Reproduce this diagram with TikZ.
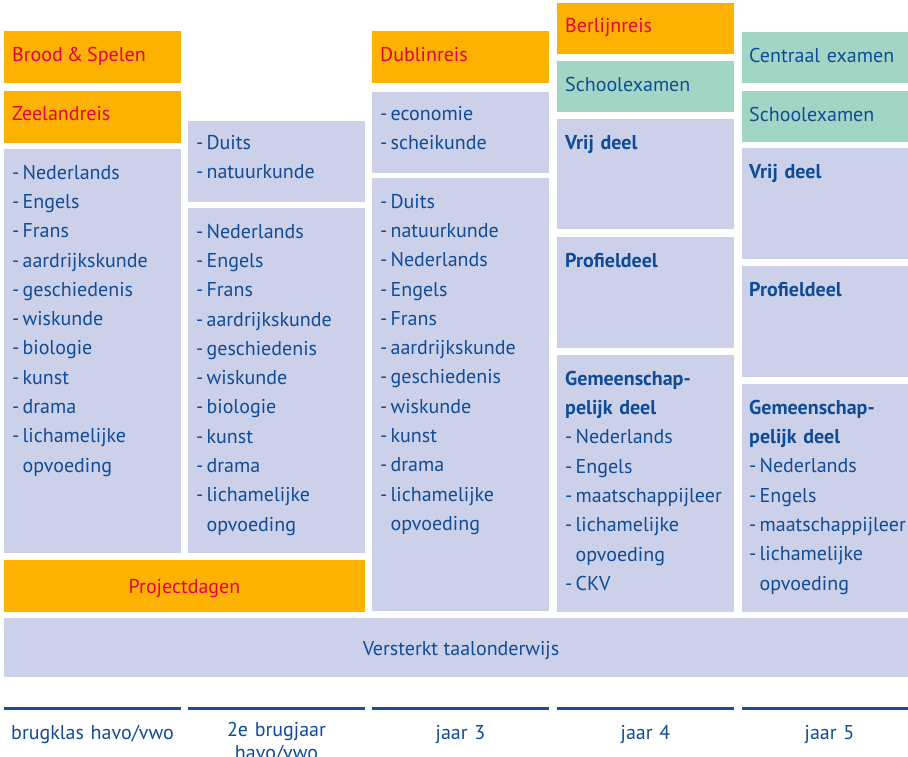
\documentclass[tikz,border=0pt]{standalone}
\usepackage{fontspec}
\setmainfont{PT Sans}
\definecolor{orng}{HTML}{FDB100}
\definecolor{lav}{HTML}{CCD0E8}
\definecolor{grn}{HTML}{A2D5C3}
\definecolor{txtblue}{HTML}{0F4C98}
\definecolor{txtred}{HTML}{E4004B}
\definecolor{rulblue}{HTML}{1A4F98}
\newcommand\st{\rule{0pt}{20pt}}
\newcommand\dsh{-\hspace{3.2pt}}
\newcommand\ind{\hphantom{-}\hspace{3.2pt}}
\newcommand\tile[6]{%
  \node[tile, fill=#2, minimum width={(#5-#3)*1pt}, minimum height={(#6-#4)*1pt}, anchor=north west] (#1) at (#3,#4) {};}
\tikzset{
  tile/.style={rectangle, inner sep=0pt, outer sep=0pt, draw=none},
  txt/.style={inner sep=0pt, text=txtblue, font=\fontsize{20}{29.3}\selectfont, text width=168pt, align=left, anchor=north west},
  redtxt/.style={txt, text=txtred},
  yearlabel/.style={inner sep=0pt, text=txtblue, font=\fontsize{20}{23}\selectfont, text width=177pt, align=center, anchor=north},
  yearrule/.style={draw=rulblue, line width=3pt}
}
\begin{document}
\begin{tikzpicture}[x=1pt,y=-1pt]
\clip (0,0) rectangle (908,757);
\fill[white] (0,0) rectangle (908,757);
% column 1
\tile{b1}{orng}{4}{31}{181}{83}
\tile{b2}{orng}{4}{91}{181}{143}
\tile{b3}{lav}{4}{149}{181}{553}
% column 2
\tile{c1}{lav}{188}{121}{365}{202}
\tile{c2}{lav}{188}{208}{365}{553}
\tile{pd}{orng}{4}{560}{365}{612}
% column 3
\tile{d1}{orng}{372}{31}{549}{83}
\tile{d2}{lav}{372}{92}{549}{173}
\tile{d3}{lav}{372}{178}{549}{611}
% column 4
\tile{e1}{orng}{557}{3}{734}{54}
\tile{e2}{grn}{557}{61}{734}{112}
\tile{e3}{lav}{557}{119}{734}{229}
\tile{e4}{lav}{557}{237}{734}{348}
\tile{e5}{lav}{557}{355}{734}{612}
% column 5
\tile{f1}{grn}{742}{32}{908}{83}
\tile{f2}{grn}{742}{91}{908}{142}
\tile{f3}{lav}{742}{148}{908}{259}
\tile{f4}{lav}{742}{266}{908}{377}
\tile{f5}{lav}{742}{384}{908}{612}
% bottom band
\tile{vt}{lav}{4}{618}{908}{677}

% texts column 1
\node[redtxt] (b1t) at (12,41) {\st Brood\hspace{4pt}\&\hspace{4pt}Spelen};
\node[redtxt] (b2t) at (12,100) {\st Zeelandreis};
\node[txt] (b3t) at (12,159) {\st\dsh Nederlands\\\dsh Engels\\\dsh Frans\\\dsh aardrijkskunde\\\dsh geschiedenis\\\dsh wiskunde\\\dsh biologie\\\dsh kunst\\\dsh drama\\\dsh lichamelijke\\\ind opvoeding};
% column 2
\node[txt] (c1t) at (196,129) {\st\dsh Duits\\\dsh natuurkunde};
\node[txt] (c2t) at (196,218) {\st\dsh Nederlands\\\dsh Engels\\\dsh Frans\\\dsh aardrijkskunde\\\dsh geschiedenis\\\dsh wiskunde\\\dsh biologie\\\dsh kunst\\\dsh drama\\\dsh lichamelijke\\\ind opvoeding};
\node[text=txtred, font=\fontsize{20}{24}\selectfont, inner sep=0pt, anchor=base] (pdt) at (184.5,593) {Projectdagen};
% column 3
\node[redtxt] (d1t) at (380,41) {\st Dublinreis};
\node[txt] (d2t) at (380,100) {\st\dsh economie\\\dsh scheikunde};
\node[txt] (d3t) at (380,188) {\st\dsh Duits\\\dsh natuurkunde\\\dsh Nederlands\\\dsh Engels\\\dsh Frans\\\dsh aardrijkskunde\\\dsh geschiedenis\\\dsh wiskunde\\\dsh kunst\\\dsh drama\\\dsh lichamelijke\\\ind opvoeding};
% column 4
\node[redtxt] (e1t) at (565,12) {\st Berlijnreis};
\node[txt] (e2t) at (565,71) {\st Schoolexamen};
\node[txt] (e3t) at (565,129) {\st\textbf{Vrij deel}};
\node[txt] (e4t) at (565,247) {\st\textbf{Profieldeel}};
\node[txt] (e5t) at (565,365) {\st\textbf{Gemeenschap-}\\\textbf{pelijk deel}\\\dsh Nederlands\\\dsh Engels\\\dsh maatschappijleer\\\dsh lichamelijke\\\ind opvoeding\\\dsh CKV};
% column 5
\node[txt] (f1t) at (749,42) {\st Centraal examen};
\node[txt] (f2t) at (749,101) {\st Schoolexamen};
\node[txt] (f3t) at (749,158) {\st\textbf{Vrij deel}};
\node[txt] (f4t) at (749,276) {\st\textbf{Profieldeel}};
\node[txt] (f5t) at (749,394) {\st\textbf{Gemeenschap-}\\\textbf{pelijk deel}\\\dsh Nederlands\\\dsh Engels\\\dsh maatschappijleer\\\dsh lichamelijke\\\ind opvoeding};
% band
\node[text=txtblue, font=\fontsize{20}{24}\selectfont, inner sep=0pt, anchor=base] (vtt) at (461,655) {Versterkt taalonderwijs};

% year rules
\coordinate (r1a) at (4,708);   \coordinate (r1b) at (181,708);
\coordinate (r2a) at (188,708); \coordinate (r2b) at (365,708);
\coordinate (r3a) at (372,708); \coordinate (r3b) at (549,708);
\coordinate (r4a) at (557,708); \coordinate (r4b) at (734,708);
\coordinate (r5a) at (742,708); \coordinate (r5b) at (908,708);
\draw[yearrule] (r1a) -- (r1b);
\draw[yearrule] (r2a) -- (r2b);
\draw[yearrule] (r3a) -- (r3b);
\draw[yearrule] (r4a) -- (r4b);
\draw[yearrule] (r5a) -- (r5b);

% year labels
\node[yearlabel] (y1) at (92.5,719) {\st brugklas havo/vwo};
\node[yearlabel] (y2) at (276.5,716) {\st 2e brugjaar\\havo/vwo};
\node[yearlabel] (y3) at (460.5,719) {\st jaar 3};
\node[yearlabel] (y4) at (645.5,719) {\st jaar 4};
\node[yearlabel] (y5) at (829.5,719) {\st jaar 5};
\end{tikzpicture}
\end{document}
